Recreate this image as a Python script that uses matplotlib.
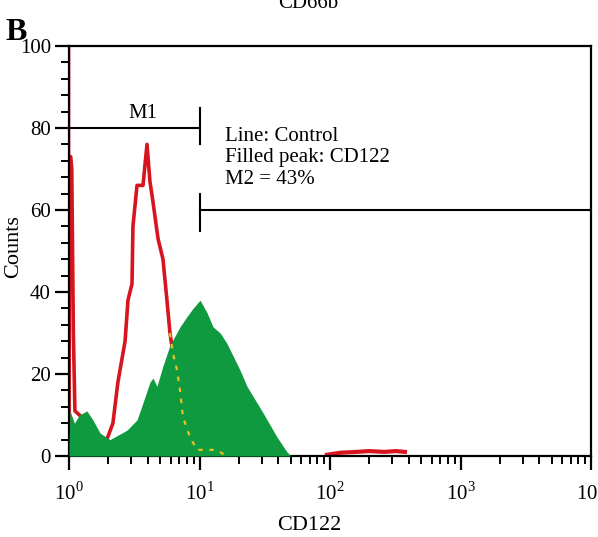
import numpy as np
import matplotlib
matplotlib.use("Agg")
import matplotlib.pyplot as plt
from matplotlib.ticker import LogLocator, MultipleLocator, FixedLocator, NullFormatter

plt.rcParams['font.family'] = 'Liberation Serif'
plt.rcParams['mathtext.fontset'] = 'custom'
plt.rcParams['mathtext.rm'] = 'Liberation Serif'

# control histogram (red line)
ctrl_x = [1.0, 1.01, 1.03, 1.05, 1.08, 1.11, 1.3, 1.5, 1.73, 1.95, 2.17, 2.37, 2.69, 2.83,
          3.04, 3.09, 3.32, 3.69, 3.96, 4.17, 4.40, 4.81, 5.25, 5.63, 5.94, 6.26,
          6.72, 7.09, 7.47, 8.46, 9.57, 13.6, 16.0]
ctrl_y = [0, 73, 73, 70, 30, 11, 9, 6, 4.6, 4, 8, 18, 28, 38,
          42, 56, 66, 66, 76, 67, 62, 53, 48, 38, 30, 25,
          21, 16, 9.5, 4.6, 1.5, 1.5, 0]
# control events at high channels
ctrl_hi_x = [94.8, 120, 160, 200, 260, 320, 375]
ctrl_hi_y = [0.3, 0.8, 1.0, 1.2, 1.0, 1.2, 1.0]

# CD122 histogram (filled)
cd_x = [1.0, 1.018, 1.1, 1.2, 1.37, 1.53, 1.73, 2.06, 2.78, 3.32, 3.69, 4.17, 4.40,
        4.72, 5.25, 5.94, 7.09, 8.02, 8.91, 10.1, 11.4, 12.7, 14.4, 16.2, 20.4,
        23.1, 30.7, 39.3, 46.8, 50.0]
cd_y = [3, 11, 8, 10, 11, 8.7, 5.6, 4, 6.3, 8.8, 13, 18, 19,
        17, 22, 27, 31.5, 34, 36, 38, 35, 31.5, 30, 27.5, 21,
        17, 10.5, 4.6, 1, 0]

decades = [1, 10, 100, 1000, 10000]
decade_labels = [r'$10^0$', r'$10^1$', r'$10^2$', r'$10^3$', r'$10^4$']

fig = plt.figure(figsize=(5.98, 5.37), dpi=100)
ax = fig.add_axes([69 / 598, 1 - 456 / 537, 522 / 598, 410 / 537])

ax.set_xscale('log')
ax.set_xlim(1, 1e4)
ax.set_ylim(0, 100)

# faint pink trace along the left edge
ax.plot([1.012, 1.012], [0, 100], color='#f4b8c0', lw=1.5, zorder=1)

ax.plot(ctrl_x, ctrl_y, color='#d8141e', lw=2.6, zorder=2, solid_joinstyle='round')
ax.fill_between(cd_x, cd_y, 0, color='#0f9a40', lw=0, zorder=3)
# control line seen through the green peak
ax.plot(ctrl_x[-9:], ctrl_y[-9:], color='#e8c020', lw=1.6, ls=(0, (2, 3)), zorder=4)
ax.plot(ctrl_hi_x, ctrl_hi_y, color='#d8141e', lw=3, zorder=2)

# markers M1 and M2
ax.plot([1, 10], [80, 80], color='black', lw=1.5, zorder=5)
ax.plot([10, 10], [76, 85], color='black', lw=1.5, zorder=5)
ax.text(3.7, 81.3, 'M1', fontsize=15, ha='center', va='bottom')
ax.plot([10, 1e4], [60, 60], color='black', lw=1.5, zorder=5, clip_on=False)
ax.plot([10, 10], [55, 64], color='black', lw=1.5, zorder=5)

ax.text(15.7, 72.7, 'Line: Control\nFilled peak: CD122\nM2 = 43%', fontsize=15,
        ha='left', va='center', linespacing=1.2)

for s in ax.spines.values():
    s.set_linewidth(1.6)

ax.yaxis.set_major_locator(MultipleLocator(20))
ax.yaxis.set_minor_locator(MultipleLocator(4))
ax.xaxis.set_major_locator(FixedLocator(decades))
ax.xaxis.set_minor_locator(LogLocator(base=10, subs=np.arange(2, 10), numticks=20))
ax.xaxis.set_minor_formatter(NullFormatter())
ax.set_xticklabels(decade_labels)

ax.tick_params(axis='both', which='major', direction='out', length=10, width=1.6,
               labelsize=15, color='black')
ax.tick_params(axis='both', which='minor', direction='out', length=6, width=1.4)
ax.tick_params(axis='x', which='major', pad=9)
ax.tick_params(axis='y', which='major', pad=3)

ax.set_xlabel('CD122', fontsize=16)
ax.xaxis.set_label_coords(0.46, -0.147)
ax.set_ylabel('Counts', fontsize=16)
ax.yaxis.set_label_coords(-0.088, 0.51)

fig.text(5 / 598, 1 - 40 / 537, 'B', fontsize=23, fontweight='bold', ha='left', va='baseline')
fig.text(308 / 598, 1 - 8 / 537, 'CD66b', fontsize=15, ha='center', va='baseline')

fig.savefig('out.png', dpi=100)
